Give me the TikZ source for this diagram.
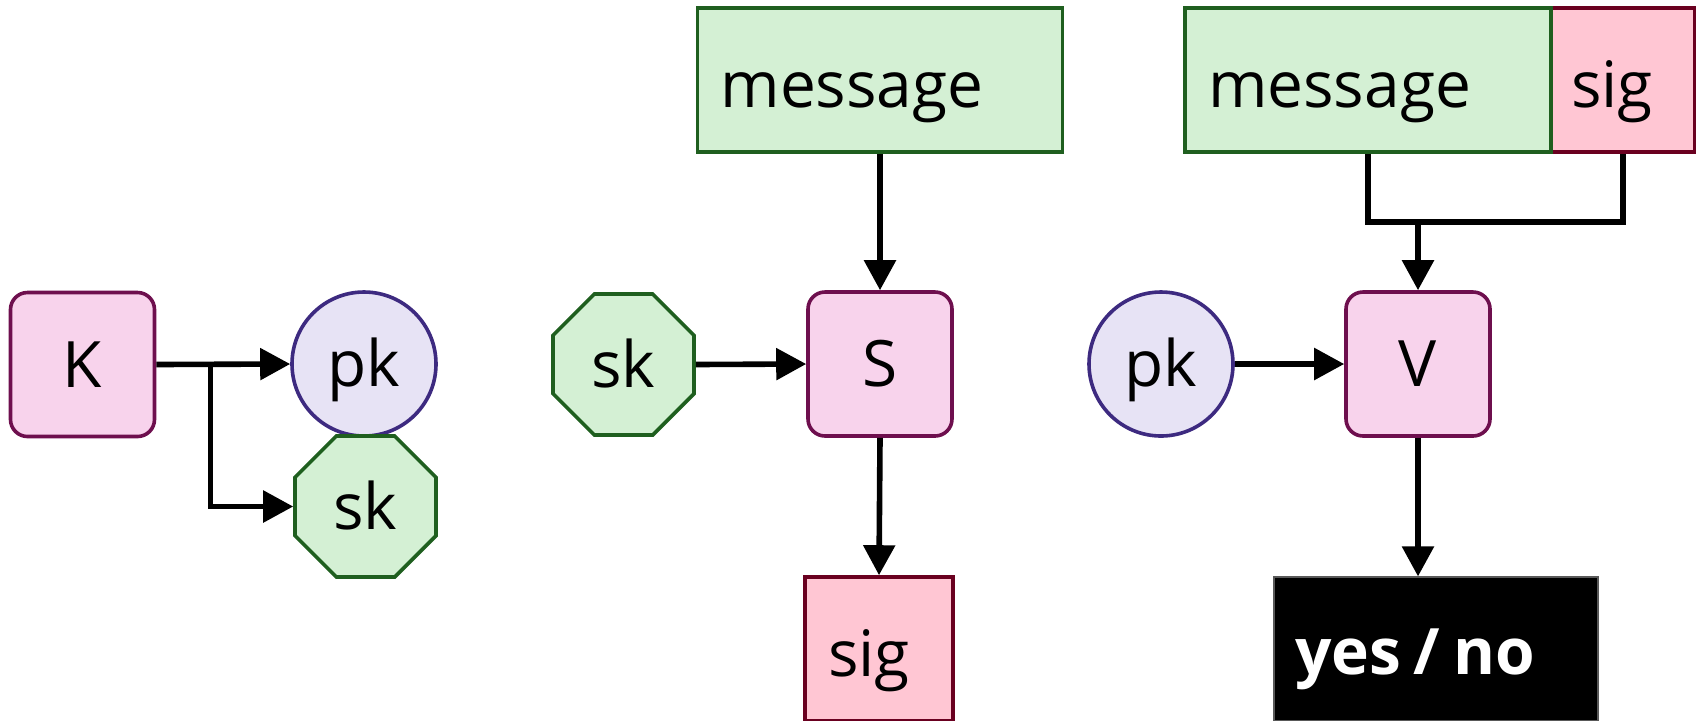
\documentclass[tikz,border=0pt]{standalone}
\usepackage{fontspec}
\setmainfont{Open Sans}
\usetikzlibrary{arrows.meta,shapes.geometric}
\definecolor{procfill}{HTML}{F8D3EC}
\definecolor{procdraw}{HTML}{6E0F4E}
\definecolor{keyfill}{HTML}{E7E3F5}
\definecolor{keydraw}{HTML}{3D2A80}
\definecolor{greenfill}{HTML}{D4F0D4}
\definecolor{greendraw}{HTML}{1F5F1F}
\definecolor{sigfill}{HTML}{FFC6D3}
\definecolor{sigdraw}{HTML}{6A0020}
\begin{document}
\begin{tikzpicture}[x=0.5pt,y=-0.5pt,
  every node/.style={font=\fontsize{32pt}{38pt}\selectfont, text height=22.8pt, text depth=0pt, inner sep=0pt},
  proc/.style={draw=procdraw, fill=procfill, line width=1.8pt, rounded corners=8.5pt, minimum width=72pt, minimum height=72pt},
  pubkey/.style={circle, draw=keydraw, fill=keyfill, line width=1.8pt, minimum size=72pt},
  seckey/.style={regular polygon, regular polygon sides=8, draw=greendraw, fill=greenfill, line width=1.8pt, minimum size=76.3pt},
  databox/.style={draw, line width=1.8pt, minimum height=72pt, inner xsep=11.5pt, align=left, text height=27pt},
  msgbox/.style={databox, draw=greendraw, fill=greenfill},
  sigbox/.style={databox, draw=sigdraw, fill=sigfill},
  resultbox/.style={draw=black!65, line width=0.6pt, fill=black, text=white, minimum height=72pt, inner xsep=10.5pt, align=left, text height=25pt, font=\fontsize{32pt}{38pt}\selectfont\bfseries},
  conn/.style={line width=2.8pt, -{Triangle[length=15pt,width=15.5pt]}},
  wire/.style={line width=2.8pt},
]
\useasboundingbox (0,0) rectangle (1696,720);

% key generation
\node[proc] (K) at (82.5,364.5) {K};
\node[pubkey] (pkA) at (364,364) {pk};
\node[seckey] (skA) at (365.5,506.5) {sk};
\draw[conn] (K.east) -- (pkA.west);
\draw[conn] ([xshift=27pt]K.east) |- (skA.west);

% signing
\node[msgbox, text width=159.5pt] (msgA) at (880,80) {message};
\node[seckey] (skB) at (623.5,364.5) {sk};
\node[proc] (S) at (880,364) {S};
\node[sigbox, text width=51pt] (sigA) at (879,649) {sig};
\draw[conn] (msgA.south) -- (S.north);
\draw[conn] (skB.east) -- (S.west);
\draw[conn] (S.south) -- (sigA.north);

% verification
\node[sigbox, inner xsep=10pt, text width=52pt] (sigB) at (1623,80) {sig};
\node[msgbox, text width=160pt] (msgB) at (1368,80) {message};
\node[pubkey] (pkB) at (1161,364) {pk};
\node[proc] (V) at (1418,364) {V};
\node[resultbox, text width=141pt] (yn) at (1436,649) {yes\hspace{0.2em}/\hspace{0.2em}no};
\coordinate (bar) at (1418,222);
\draw[wire] (msgB.south) |- (bar) -| (sigB.south);
\draw[conn] (V.north |- bar) -- (V.north);
\draw[conn] (pkB.east) -- (V.west);
\draw[conn] (V.south) -- (V.south |- yn.north);
\end{tikzpicture}
\end{document}
